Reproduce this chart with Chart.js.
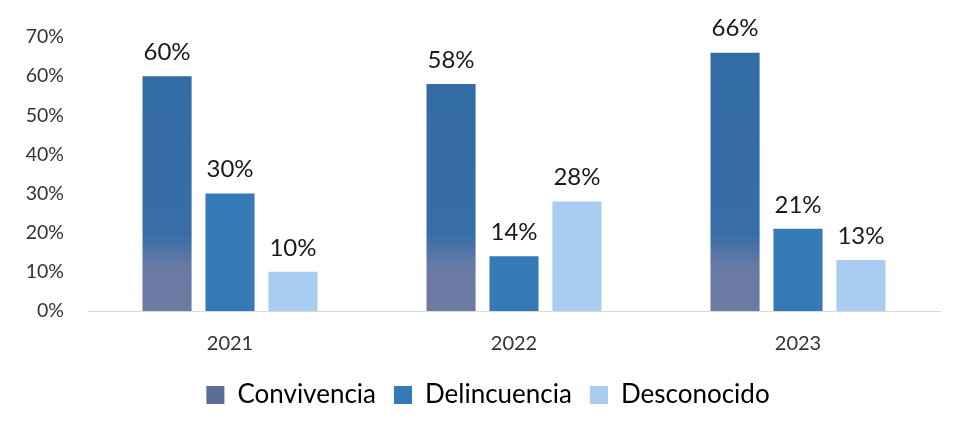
<!DOCTYPE html>
<html>
<head>
<meta charset="utf-8">
<script src="https://cdn.jsdelivr.net/npm/chart.js@4/dist/chart.umd.min.js"></script>
<style>
  html, body { margin: 0; padding: 0; background: #fff; }
  #wrap { position: relative; width: 955px; height: 430px; }
</style>
</head>
<body>
<div id="wrap"><canvas id="chart"></canvas></div>
<script>
const years = ['2021', '2022', '2023'];
const convivencia = [60, 58, 66];
const delincuencia = [30, 14, 21];
const desconocido = [10, 28, 13];
const yTicks = [0, 10, 20, 30, 40, 50, 60, 70];

const FONT = 'Lato, "Noto Sans", sans-serif';

// scanned look: first bar fades to grey-violet near the bottom
function convFill(ctx) {
  const area = ctx.chart.chartArea;
  if (!area) return '#386ca5';
  const g = ctx.chart.ctx.createLinearGradient(0, area.bottom, 0, area.top);
  g.addColorStop(0, '#6d7aa2');
  g.addColorStop(0.16, '#687aa4');
  g.addColorStop(0.28, '#386ea7');
  g.addColorStop(1, '#326ba5');
  return g;
}

// value labels on top of each bar
const barLabels = {
  id: 'barLabels',
  afterDatasetsDraw(chart) {
    const c = chart.ctx;
    c.save();
    c.font = '24px ' + FONT;
    c.fillStyle = '#1a1a1a';
    c.textAlign = 'center';
    c.textBaseline = 'bottom';
    chart.data.datasets.forEach((ds, i) => {
      chart.getDatasetMeta(i).data.forEach((bar, j) => {
        c.fillText(ds.data[j] + '%', bar.x, bar.y - 12);
      });
    });
    c.restore();
  }
};

new Chart(document.getElementById('chart'), {
  type: 'bar',
  data: {
    labels: years,
    datasets: [
      { label: 'Convivencia', data: convivencia, backgroundColor: convFill },
      { label: 'Delincuencia', data: delincuencia, backgroundColor: '#3679b7' },
      { label: 'Desconocido', data: desconocido, backgroundColor: '#a8cdf0' }
    ]
  },
  options: {
    responsive: true,
    maintainAspectRatio: false,
    animation: false,
    devicePixelRatio: 1,
    datasets: { bar: { categoryPercentage: 0.665, barPercentage: 0.78 } },
    // left padding only pushes the legend right; y labels are mirrored so they aren't clipped
    layout: { padding: { top: 37, right: 15, bottom: 12, left: 36 } },
    scales: {
      x: {
        afterFit: axis => { axis.height = 53; },
        grid: { display: false },
        border: { color: '#d9d9d9', width: 1 },
        ticks: { color: '#333', font: { family: FONT, size: 20 }, padding: 13 }
      },
      y: {
        min: 0,
        max: 70,
        afterBuildTicks: axis => { axis.ticks = yTicks.map(v => ({ value: v })); },
        afterFit: axis => {
          axis.width = 52;
          // right edge of labels at x = 64
          axis.options.ticks.padding = -24 - axis._getLabelSizes().widest.width;
        },
        grid: { display: false, drawTicks: false },
        border: { display: false },
        ticks: {
          mirror: true,
          crossAlign: 'far',
          color: '#333',
          font: { family: FONT, size: 19.5 },
          callback: v => v + '%'
        }
      }
    },
    plugins: {
      legend: {
        position: 'bottom',
        labels: {
          color: '#111',
          font: { family: FONT, size: 26 },
          boxWidth: 18,
          boxHeight: 18,
          padding: 18,
          generateLabels: chart => chart.data.datasets.map((ds, i) => ({
            text: ds.label,
            fillStyle: ['#5a6d98', '#3679b7', '#a8cdf0'][i],
            strokeStyle: 'transparent',
            lineWidth: 0,
            datasetIndex: i
          }))
        }
      },
      tooltip: { enabled: false }
    }
  },
  plugins: [barLabels]
});
</script>
</body>
</html>
